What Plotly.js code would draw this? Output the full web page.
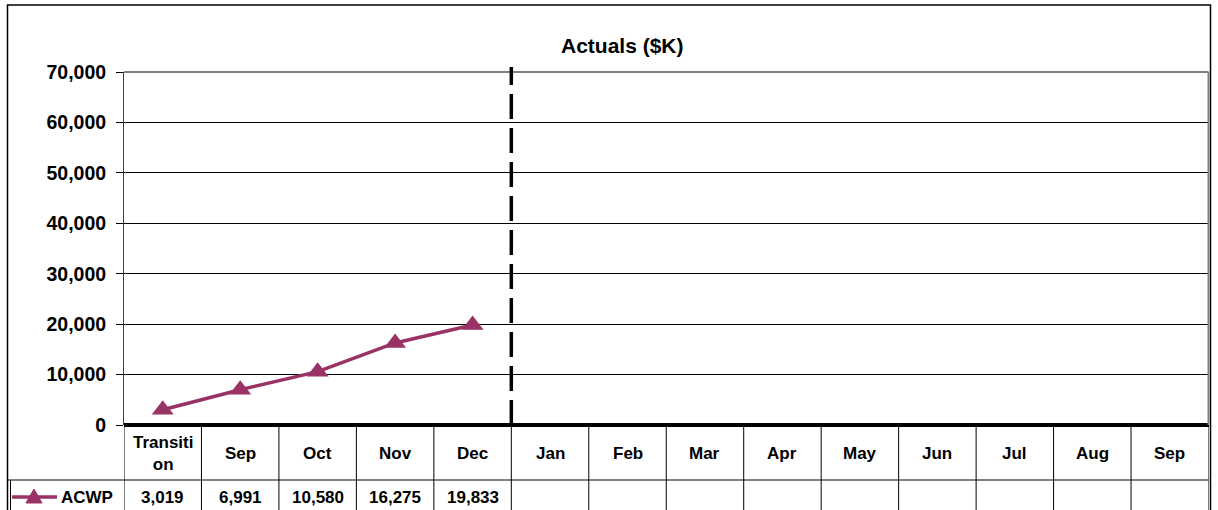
<!DOCTYPE html>
<html>
<head>
<meta charset="utf-8">
<script src="https://cdn.plot.ly/plotly-3.0.1.min.js"></script>
<style>html,body{margin:0;padding:0;background:#fff;}#chart{width:1218px;height:510px;}</style>
</head>
<body>
<div id="chart"></div>
<script>
const categories = ["Transition","Sep","Oct","Nov","Dec","Jan","Feb","Mar","Apr","May","Jun","Jul","Aug","Sep"];
const categoryLabels = ["Transiti<br>on","Sep","Oct","Nov","Dec","Jan","Feb","Mar","Apr","May","Jun","Jul","Aug","Sep"];
const acwp = [3019, 6991, 10580, 16275, 19833];
const seriesName = "ACWP";
const yTicks = [0,10000,20000,30000,40000,50000,60000,70000];

const W = 1218, H = 510;
const px = v => v / W;
const py = v => 1 - v / H;
const color = "#993366";
const FONT = "Liberation Sans, Arial, sans-serif";

const xIdx = acwp.map((_, i) => i);

const trace = {
  x: xIdx, y: acwp, type: "scatter", mode: "lines+markers",
  name: seriesName,
  line: {color: color, width: 3.5},
  marker: {symbol: "triangle-up", size: 19, color: color},
  cliponaxis: false, hoverinfo: "x+y"
};

const shapes = [];
const annotations = [];
// outer chart border
shapes.push({type:"rect", xref:"paper", yref:"paper", x0:px(7.5), x1:px(1210.5), y0:py(520), y1:py(5), line:{color:"#000", width:1.5}, layer:"above"});
// plot area border (gray)
shapes.push({type:"line", xref:"paper", yref:"paper", x0:px(124), x1:px(1208.5), y0:py(72), y1:py(72), line:{color:"#808080", width:2}, layer:"above"});
shapes.push({type:"line", xref:"paper", yref:"paper", x0:px(1208.5), x1:px(1208.5), y0:py(72), y1:py(425), line:{color:"#808080", width:2}, layer:"above"});
// dashed divider between Dec and Jan
shapes.push({type:"line", xref:"x", yref:"paper", x0:4.5, x1:4.5, y0:py(425), y1:py(67), line:{color:"#000", width:3.5, dash:"25px,9px"}, layer:"above"});
// table: vertical cell borders
for (let i = 0; i <= categories.length; i++) {
  shapes.push({type:"line", xref:"x", yref:"paper", x0:i-0.5, x1:i-0.5, y0:py(427), y1:py(515), line:{color:"#000", width:1}});
}
// table: row separator
shapes.push({type:"line", xref:"paper", yref:"paper", x0:px(7.5), x1:px(1208.5), y0:py(480), y1:py(480), line:{color:"#000", width:1}});
// legend column left border
shapes.push({type:"line", xref:"paper", yref:"paper", x0:px(10.5), x1:px(10.5), y0:py(480), y1:py(515), line:{color:"#000", width:1}});
// legend key
shapes.push({type:"line", xref:"paper", yref:"paper", x0:px(12), x1:px(57), y0:py(497), y1:py(497), line:{color:color, width:3.5}});
shapes.push({type:"path", xref:"paper", yref:"paper", xsizemode:"pixel", ysizemode:"pixel", xanchor:px(34), yanchor:py(497),
  path:"M -8 -6 L 8 -6 L 0 8 Z", fillcolor:color, line:{color:color, width:1}});

const tf = {family:FONT, size:17, color:"#000", weight:"bold"};
// header labels
categoryLabels.forEach((c, i) => {
  annotations.push({xref:"x", yref:"paper", x:i, y:py(453), text:c, showarrow:false, xanchor:"center", yanchor:"middle", font:tf});
});
// data row values
acwp.forEach((v, i) => {
  annotations.push({xref:"x", yref:"paper", x:i, y:py(497), text:v.toLocaleString("en-US"), showarrow:false, xanchor:"center", yanchor:"middle", font:tf});
});
annotations.push({xref:"paper", yref:"paper", x:px(59), y:py(497), text:seriesName, showarrow:false, xanchor:"left", yanchor:"middle", font:tf});
// title
annotations.push({xref:"paper", yref:"paper", x:px(622), y:py(45), text:"Actuals ($K)", showarrow:false, xanchor:"center", yanchor:"middle",
  font:{family:FONT, size:21, color:"#000", weight:"bold"}});

const layout = {
  width: W, height: H,
  margin: {l:0, r:0, t:0, b:0},
  paper_bgcolor: "#fff", plot_bgcolor: "#fff",
  showlegend: false,
  xaxis: {
    domain: [px(124), px(1208.5)],
    range: [-0.5, categories.length - 0.5],
    showticklabels: false, showgrid: false, zeroline: false, ticks: "", fixedrange: true,
    tickvals: categories.map((_, i) => i), ticktext: categories
  },
  yaxis: {
    domain: [py(425), py(72)],
    range: [0, 70000],
    tickvals: yTicks,
    tickformat: ",d",
    ticks: "outside", ticklen: 7, tickcolor: "#000", tickwidth: 1,
    ticklabelstandoff: 6,
    tickfont: {family:FONT, size:19.5, color:"#000", weight:"bold"},
    showgrid: true, gridcolor: "#000", gridwidth: 1,
    zeroline: true, zerolinecolor: "#000", zerolinewidth: 4,
    showline: true, linecolor: "#404040", linewidth: 1,
    fixedrange: true
  },
  shapes: shapes,
  annotations: annotations
};

Plotly.newPlot("chart", [trace], layout, {displayModeBar:false, staticPlot:true});
</script>
</body>
</html>
